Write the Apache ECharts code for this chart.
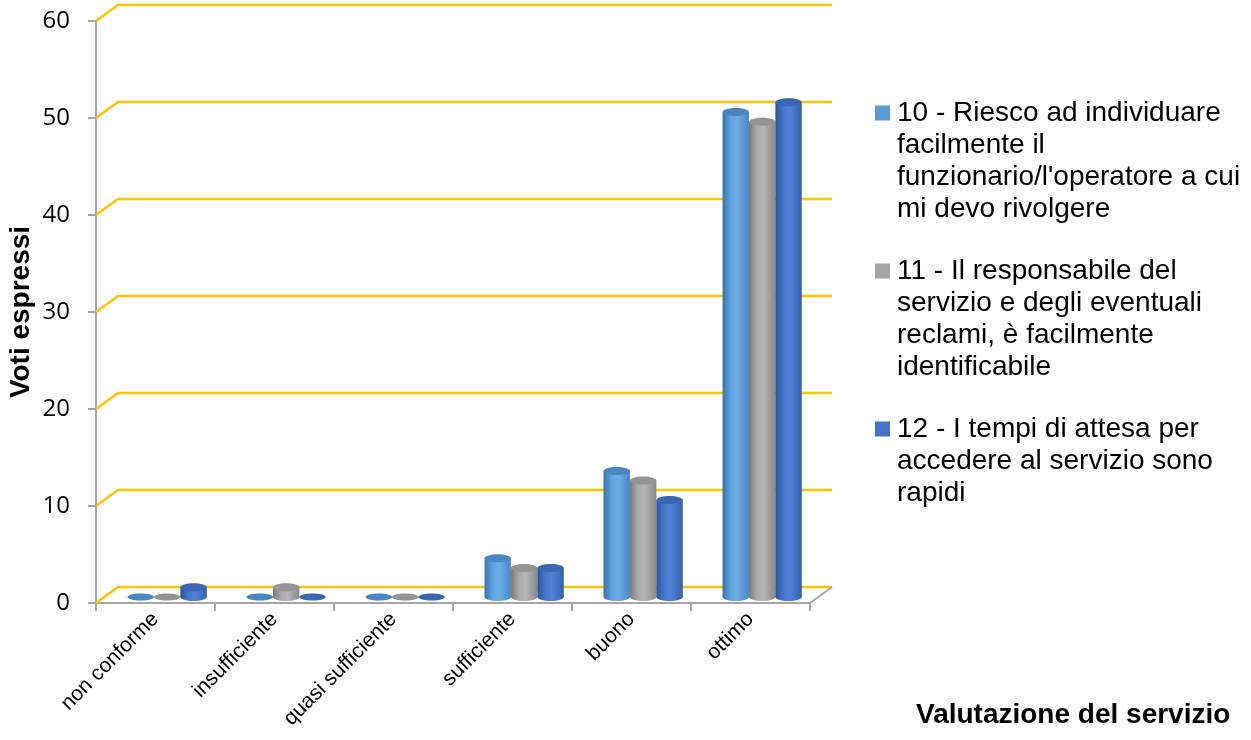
<!DOCTYPE html>
<html>
<head>
<meta charset="utf-8">
<title>Valutazione del servizio</title>
<script src="https://cdn.jsdelivr.net/npm/echarts@6/dist/echarts.min.js"></script>
<style>
  html, body { margin: 0; padding: 0; background: #ffffff; }
  #chart { width: 1251px; height: 740px; }
</style>
</head>
<body>
<div id="chart"></div>
<script>
// Rating categories on the x axis
const categories = ['non conforme', 'insufficiente', 'quasi sufficiente', 'sufficiente', 'buono', 'ottimo'];

// Votes per question
const seriesNames = [
  "10 - Riesco ad individuare facilmente il funzionario/l'operatore a cui mi devo rivolgere",
  "11 - Il responsabile del servizio e degli eventuali reclami, è facilmente identificabile",
  "12 - I tempi di attesa per accedere al servizio sono rapidi"
];
const legendLines = [
  ["10 - Riesco ad individuare", "facilmente il", "funzionario/l'operatore a cui", "mi devo rivolgere"],
  ["11 - Il responsabile del", "servizio e degli eventuali", "reclami, è facilmente", "identificabile"],
  ["12 - I tempi di attesa per", "accedere al servizio sono", "rapidi"]
];
const q10 = [0, 0, 0, 4, 13, 50];
const q11 = [0, 1, 0, 3, 12, 49];
const q12 = [1, 0, 0, 3, 10, 51];
const seriesValues = [q10, q11, q12];

// Value axis ticks
const yTicks = [0, 10, 20, 30, 40, 50, 60];

// Cylinder shading per series: side gradient stops and cap colour
const palette = [
  { base: '#5B9BD5', side: ['#3A72A8', '#5FA2DE', '#6BAEE8', '#4A87C2'], cap: '#4A86BF' },
  { base: '#A5A5A5', side: ['#7A7A7A', '#A9A9A9', '#B6B6B6', '#8A8A8A'], cap: '#949494' },
  { base: '#4472C4', side: ['#2C5596', '#4676CB', '#5282D6', '#3460AD'], cap: '#3A66B3' }
];

// Pseudo-3D depth of the chart box
const DEPTH_X = 22, DEPTH_Y = -16;
const BAR_SHIFT_Y = -6;

const chart = echarts.init(document.getElementById('chart'));

function cylinderRenderer(sIdx) {
  return function (params, api) {
    const idx = api.value(0);
    const v = api.value(1);
    const band = api.size([1, 0])[0];
    const base = api.coord([idx, 0]);
    const top = api.coord([idx, v]);
    const w = band * 0.222;
    const x0 = base[0] - band / 2 + band * 0.265 + sIdx * w;
    const cx = x0 + w / 2;
    const yb = base[1] + BAR_SHIFT_Y;
    const yt = top[1] + BAR_SHIFT_Y;
    const ry = 4;
    const p = palette[sIdx];
    const grad = new echarts.graphic.LinearGradient(0, 0, 1, 0, [
      { offset: 0, color: p.side[0] },
      { offset: 0.3, color: p.side[1] },
      { offset: 0.55, color: p.side[2] },
      { offset: 1, color: p.side[3] }
    ]);
    const children = [];
    if (v > 0) {
      children.push({ type: 'ellipse', shape: { cx: cx, cy: yb, rx: w / 2, ry: ry }, style: { fill: grad } });
      children.push({ type: 'rect', shape: { x: x0, y: yt, width: w, height: yb - yt }, style: { fill: grad } });
      children.push({ type: 'ellipse', shape: { cx: cx, cy: yt, rx: w / 2, ry: ry }, style: { fill: p.cap } });
    } else {
      children.push({ type: 'ellipse', shape: { cx: cx, cy: yb, rx: w / 2, ry: 3.5 }, style: { fill: p.cap } });
    }
    return { type: 'group', children: children };
  };
}

// Gridlines drawn as front stub + back wall line
function gridRenderer(params, api) {
  const v = api.value(1);
  const band = api.size([1, 0])[0];
  const first = api.coord([0, v]);
  const last = api.coord([categories.length - 1, v]);
  const xl = first[0] - band / 2;
  const xr = last[0] + band / 2;
  const y = first[1];
  const children = [{
    type: 'polyline',
    shape: { points: [[xl, y], [xl + DEPTH_X, y + DEPTH_Y], [xr + DEPTH_X, y + DEPTH_Y]] },
    style: { stroke: '#FFC400', lineWidth: 2.5, fill: null }
  }];
  if (v === 0) {
    children.push({
      type: 'line',
      shape: { x1: xr, y1: y, x2: xr + DEPTH_X, y2: y + DEPTH_Y },
      style: { stroke: '#A6A6A6', lineWidth: 2 }
    });
  }
  return { type: 'group', children: children };
}

const rich = {
  g: { width: 7 },
  p: { width: 22 },
  t: { fontSize: 28, lineHeight: 32, fontFamily: 'Liberation Sans', color: '#000' }
};
palette.forEach(function (p, i) {
  rich['q' + i] = { width: 15, height: 15, backgroundColor: p.base };
});

const series = [{
  type: 'custom',
  name: '__grid',
  renderItem: gridRenderer,
  data: yTicks.map(function (t) { return [0, t]; }),
  encode: { x: 0, y: 1 },
  clip: false,
  silent: true,
  z: 1
}];
seriesNames.forEach(function (name, i) {
  series.push({
    type: 'custom',
    name: name,
    renderItem: cylinderRenderer(i),
    data: seriesValues[i].map(function (v, k) { return [k, v]; }),
    encode: { x: 0, y: 1 },
    itemStyle: { color: palette[i].base },
    clip: false,
    z: 3
  });
});

chart.setOption({
  animation: false,
  backgroundColor: '#ffffff',
  grid: { left: 96, right: 441, top: 21, bottom: 137, containLabel: false, outerBoundsMode: 'none' },
  title: {
    text: 'Valutazione del servizio',
    left: 911,
    top: 696,
    textStyle: { fontFamily: 'Liberation Sans', fontWeight: 'bold', fontSize: 28, color: '#000' }
  },
  legend: {
    orient: 'vertical',
    left: 865,
    top: 94,
    itemGap: 34,
    itemWidth: 0,
    itemHeight: 0,
    icon: 'none',
    selectedMode: false,
    data: seriesNames,
    formatter: function (name) {
      const i = seriesNames.indexOf(name);
      return legendLines[i].map(function (line, k) {
        return (k === 0 ? '{q' + i + '|}{g|}' : '{p|}') + '{t|' + line + '}';
      }).join('\n');
    },
    textStyle: { fontSize: 28, fontFamily: 'Liberation Sans', color: '#000', rich: rich }
  },
  xAxis: {
    type: 'category',
    data: categories,
    axisLine: { show: true, lineStyle: { color: '#A6A6A6', width: 2 } },
    axisTick: { show: true, length: 8, lineStyle: { color: '#A6A6A6', width: 2 } },
    axisLabel: {
      rotate: 45,
      margin: 13,
      fontSize: 21,
      fontFamily: 'Liberation Sans',
      color: '#000',
      interval: 0
    },
    splitLine: { show: false }
  },
  yAxis: {
    type: 'value',
    min: 0,
    max: 60,
    interval: 10,
    name: 'Voti espressi',
    nameLocation: 'middle',
    nameRotate: 90,
    nameGap: 61,
    nameMoveOverlap: false,
    nameTextStyle: { fontFamily: 'Liberation Sans', fontWeight: 'bold', fontSize: 28, color: '#000' },
    axisLine: { show: true, lineStyle: { color: '#A6A6A6', width: 2 } },
    axisTick: { show: true, length: 8, lineStyle: { color: '#A6A6A6', width: 2 } },
    axisLabel: { margin: 26, fontSize: 24, fontFamily: 'Open Sans', color: '#000' },
    splitLine: { show: false }
  },
  series: series
});
</script>
</body>
</html>
